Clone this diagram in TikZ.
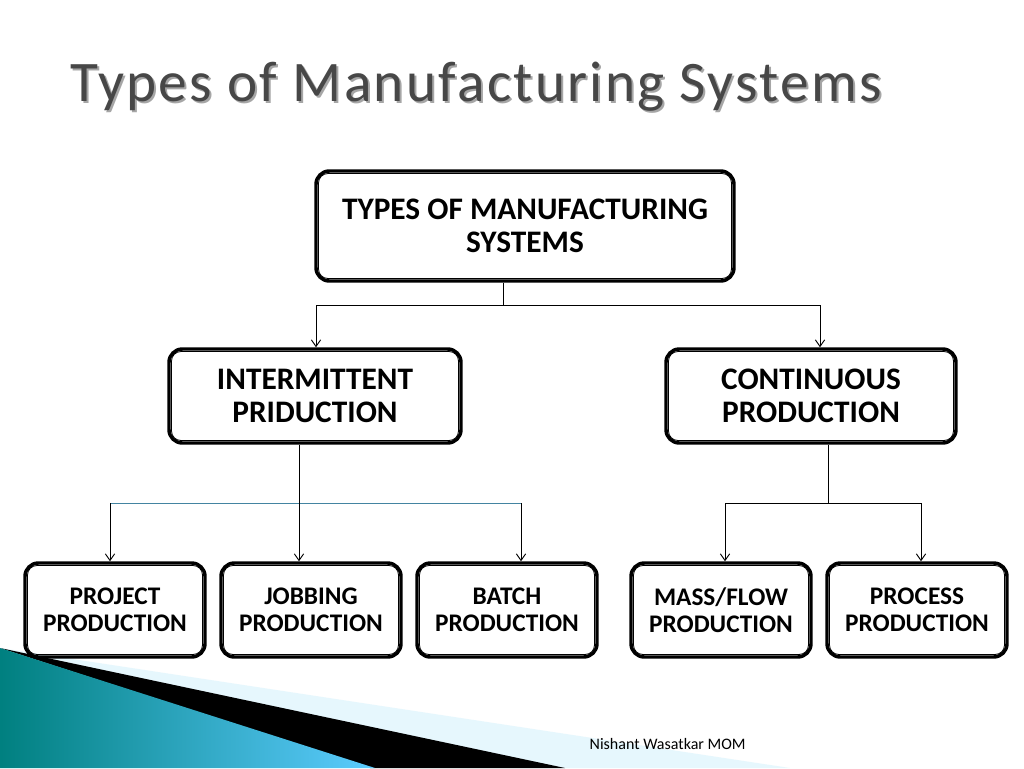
\documentclass[tikz,border=0pt]{standalone}
\usepackage{fontspec}
\setmainfont{Carlito}
\usetikzlibrary{arrows.meta}
\begin{document}
\begin{tikzpicture}[x=0.75pt,y=-0.75pt,
  bx/.style={draw,line width=2.6pt,rounded corners=10pt,align=center,inner sep=0pt},
  inner/.style={line width=0.6pt,rounded corners=7pt},
  ln/.style={line width=0.7pt},
  ar/.style={ln,-{Straight Barb[length=5pt,width=7pt]}}]
\useasboundingbox (0,0) rectangle (1024,768);
\fill[white] (0,0) rectangle (1024,768);
% decoration
\fill[cyan!10!white] (0,648) -- (790,768) -- (0,768) -- cycle;
\fill[black] (0,648) -- (565,768) -- (370,768) -- cycle;
\shade[left color=cyan!50!black, right color=cyan!55!white!80!blue] (0,648) -- (375,768) -- (0,768) -- cycle;
% title
\node[text=black!35, font=\fontsize{43}{48}\selectfont, anchor=base west] (shadow) at (68,103) {\addfontfeature{LetterSpace=4}Types of Manufacturing Systems};
\node[text=black!72, font=\fontsize{43}{48}\selectfont, anchor=base west] (title) at (66,101) {\addfontfeature{LetterSpace=4}Types of Manufacturing Systems};
\node[font=\fontsize{12}{14}\selectfont, anchor=base west] (foot) at (585,749) {Nishant Wasatkar MOM};
% boxes
\def\B#1#2#3#4#5#6#7{%
  \node[bx, minimum width={(#4)*0.75pt}, minimum height={(#5)*0.75pt}] (#1) at (#2,#3) {};
  \draw[inner] ([shift={(3.2pt,-3.2pt)}]#1.north west) rectangle ([shift={(-3.2pt,3.2pt)}]#1.south east);
  \node[align=center, font=\fontsize{#6}{#6}\selectfont\bfseries] (#1t) at (#2,#3) {#7};
}
\B{top}{525}{226}{418}{110}{23.5}{TYPES OF MANUFACTURING\\[1pt]SYSTEMS}
\B{inter}{315}{396}{292}{94}{23.5}{INTERMITTENT\\[1pt]PRIDUCTION}
\B{cont}{811}{396}{290}{94}{23.5}{CONTINUOUS\\[1pt]PRODUCTION}
\B{proj}{115}{610}{180}{94}{19}{PROJECT\\[1pt]PRODUCTION}
\B{job}{311}{610}{180}{94}{19}{JOBBING\\[1pt]PRODUCTION}
\B{bat}{507}{610}{180}{94}{19}{BATCH\\[1pt]PRODUCTION}
\B{mass}{721}{610}{180}{94}{19}{MASS/FLOW\\[1pt]PRODUCTION}
\B{proc}{917}{610}{180}{94}{19}{PROCESS\\[1pt]PRODUCTION}
% connectors
\coordinate (j1) at (503,305);
\draw[ln] (top.south -| j1) -- (j1);
\draw[ln] (316,305) -- (820,305);
\draw[ar] (316,305) -- (inter.north -| 316,0);
\draw[ar] (820,305) -- (cont.north -| 820,0);
\coordinate (j2) at (299,503);
\draw[ln] (inter.south -| j2) -- (j2);
\draw[ln, cyan!60!black] (110,503) -- (521,503);
\draw[ar] (110,503) -- (proj.north -| 110,0);
\draw[ar] (299,503) -- (job.north -| 299,0);
\draw[ar] (521,503) -- (bat.north -| 521,0);
\coordinate (j3) at (828,503);
\draw[ln] (cont.south -| j3) -- (j3);
\draw[ln] (725,503) -- (921,503);
\draw[ar] (725,503) -- (mass.north -| 725,0);
\draw[ar] (921,503) -- (proc.north -| 921,0);
\end{tikzpicture}
\end{document}
